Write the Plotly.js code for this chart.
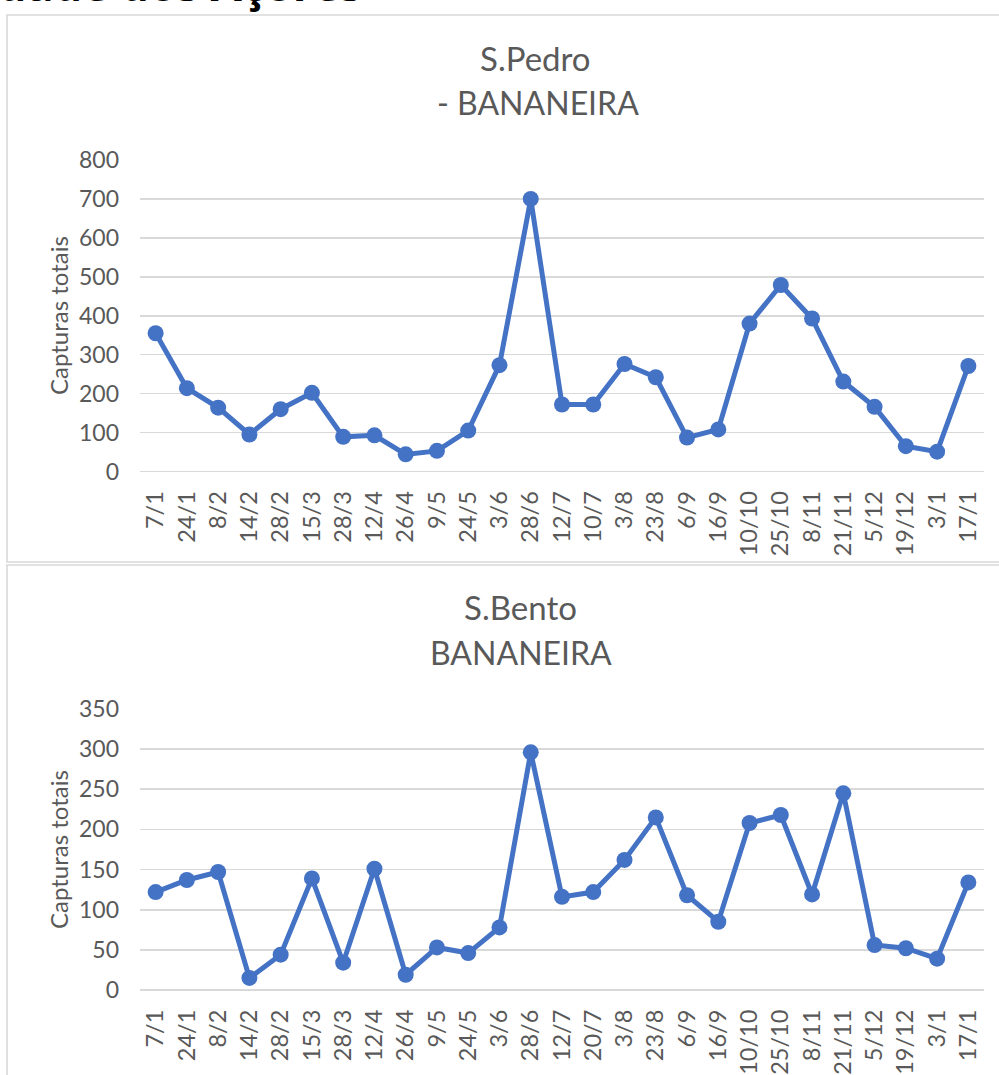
<!DOCTYPE html>
<html>
<head>
<meta charset="utf-8">
<script src="https://cdn.plot.ly/plotly-3.0.1.min.js"></script>
<style>html,body{margin:0;padding:0;background:#fff;}#chart{width:999px;height:1075px;}</style>
</head>
<body>
<div id="chart"></div>
<script>
// ---- Data ----
const pedroDates = ["7/1","24/1","8/2","14/2","28/2","15/3","28/3","12/4","26/4","9/5","24/5","3/6","28/6","12/7","10/7","3/8","23/8","6/9","16/9","10/10","25/10","8/11","21/11","5/12","19/12","3/1","17/1"];
const pedroValues = [355,214,164,95,160,202,89,93,44,53,105,273,700,172,172,276,242,87,108,380,479,393,231,166,65,51,271];

const bentoDates = ["7/1","24/1","8/2","14/2","28/2","15/3","28/3","12/4","26/4","9/5","24/5","3/6","28/6","12/7","20/7","3/8","23/8","6/9","16/9","10/10","25/10","8/11","21/11","5/12","19/12","3/1","17/1"];
const bentoValues = [122,137,147,15,44,139,34,151,19,53,46,78,296,116,122,162,215,118,85,208,218,119,245,56,52,39,134];

const titlePedro = ["S.Pedro", "- BANANEIRA"];
const titleBento = ["S.Bento", "BANANEIRA"];
const yTitle = "Capturas totais";
const headerText = "dade dos Açores";

// ---- Layout helpers ----
const W = 999, H = 1075;
const px = x => x / W;
const py = y => 1 - y / H;

const FONT = "Lato, 'Open Sans', sans-serif";
const TXT = "#595959";
const GRID = "#d9d9d9";
const BLUE = "#4472C4";

function trace(x, y, xa, ya) {
  return {
    x: x, y: y, type: "scatter", mode: "lines+markers",
    xaxis: xa, yaxis: ya,
    line: {color: BLUE, width: 5},
    marker: {color: BLUE, size: 16},
    hoverinfo: "x+y"
  };
}

const xCommon = {
  type: "category", range: [-0.5, 26.5], showgrid: false, zeroline: false,
  showline: false, ticks: "", tickangle: -90, ticklabelstandoff: 14,
  tickfont: {family: FONT, size: 23.5, color: TXT}, fixedrange: true
};
const yCommon = {
  showgrid: true, gridcolor: GRID, gridwidth: 1.6,
  zeroline: true, zerolinecolor: GRID, zerolinewidth: 1.6,
  showline: false, ticks: "", ticklabelstandoff: 20,
  tickfont: {family: FONT, size: 23, color: TXT}, fixedrange: true
};

const layout = {
  width: W, height: H,
  margin: {l: 0, r: 0, t: 0, b: 0},
  paper_bgcolor: "#fff", plot_bgcolor: "rgba(0,0,0,0)",
  showlegend: false,
  xaxis: Object.assign({}, xCommon, {domain: [px(140), px(984)], anchor: "y"}),
  yaxis: Object.assign({}, yCommon, {domain: [py(471.5), py(160)], range: [0, 800], dtick: 100, anchor: "x"}),
  xaxis2: Object.assign({}, xCommon, {domain: [px(140), px(984)], anchor: "y2"}),
  yaxis2: Object.assign({}, yCommon, {domain: [py(990), py(709)], range: [0, 350], dtick: 50, anchor: "x2"}),
  shapes: [
    {type: "rect", xref: "paper", yref: "paper", x0: px(7), x1: px(1010), y0: py(562), y1: py(15),
     line: {color: GRID, width: 1.6}, fillcolor: "rgba(0,0,0,0)", layer: "below"},
    {type: "rect", xref: "paper", yref: "paper", x0: px(7), x1: px(1010), y0: py(1090), y1: py(565),
     line: {color: GRID, width: 1.6}, fillcolor: "rgba(0,0,0,0)", layer: "below"}
  ],
  annotations: [
    {text: "<b>" + headerText + "</b>", xref: "paper", yref: "paper", x: px(-4), y: py(16),
     xanchor: "left", yanchor: "bottom", showarrow: false,
     font: {family: "'Open Sans', sans-serif", size: 45, color: "#000"}},
    {text: titlePedro[0], xref: "paper", yref: "paper", x: px(535), y: py(58), xanchor: "center", yanchor: "middle",
     showarrow: false, font: {family: FONT, size: 33, color: TXT}},
    {text: titlePedro[1], xref: "paper", yref: "paper", x: px(538), y: py(103), xanchor: "center", yanchor: "middle",
     showarrow: false, font: {family: FONT, size: 32, color: TXT}},
    {text: titleBento[0], xref: "paper", yref: "paper", x: px(520), y: py(607), xanchor: "center", yanchor: "middle",
     showarrow: false, font: {family: FONT, size: 33, color: TXT}},
    {text: titleBento[1], xref: "paper", yref: "paper", x: px(521), y: py(652), xanchor: "center", yanchor: "middle",
     showarrow: false, font: {family: FONT, size: 32, color: TXT}},
    {text: yTitle, xref: "paper", yref: "paper", x: px(58), y: py(316), textangle: -90,
     xanchor: "center", yanchor: "middle", showarrow: false, font: {family: FONT, size: 24, color: TXT}},
    {text: yTitle, xref: "paper", yref: "paper", x: px(58), y: py(850), textangle: -90,
     xanchor: "center", yanchor: "middle", showarrow: false, font: {family: FONT, size: 24, color: TXT}}
  ]
};

Plotly.newPlot("chart", [
  trace(pedroDates, pedroValues, "x", "y"),
  trace(bentoDates, bentoValues, "x2", "y2")
], layout, {displayModeBar: false, staticPlot: true});
</script>
</body>
</html>
